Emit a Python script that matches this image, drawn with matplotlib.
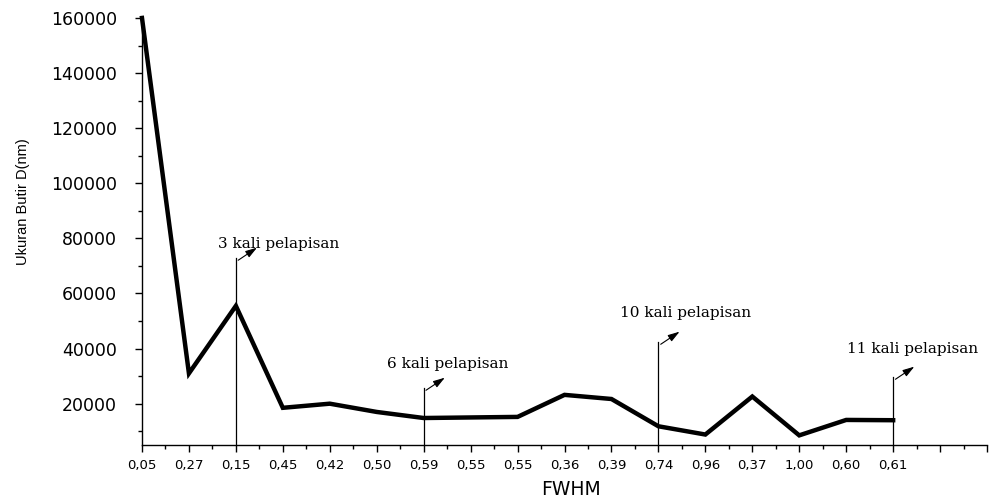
import matplotlib
matplotlib.use("Agg")
import matplotlib.pyplot as plt
from matplotlib.ticker import MultipleLocator, FixedLocator

fwhm_labels = ["0,05", "0,27", "0,15", "0,45", "0,42", "0,50", "0,59", "0,55", "0,55",
               "0,36", "0,39", "0,74", "0,96", "0,37", "1,00", "0,60", "0,61"]
grain_size = [160000, 31000, 55500, 18500, 20000, 17000, 14800, 15000, 15200,
              23200, 21700, 11800, 8800, 22600, 8500, 14100, 14000]

ann_labels = ["3 kali pelapisan", "6 kali pelapisan", "10 kali pelapisan", "11 kali pelapisan"]
ann_index = [2, 6, 11, 16]
ann_line_top = [73000, 25800, 42500, 29800]
ann_text_y = [78000, 34500, 53000, 40000]
ann_text_dx = [0.9, 0.52, 0.57, 0.42]

fig = plt.figure(figsize=(9.95, 4.99), dpi=100)
ax = fig.add_axes([0.1427, 0.1082, 0.992 - 0.1427, 0.964 - 0.1082])

x = list(range(len(grain_size)))
ax.plot(x, grain_size, color="black", lw=3.2, solid_joinstyle="miter", clip_on=False, zorder=3)

ax.set_xlim(0, 18)
ax.set_ylim(5000, 160000)

ax.xaxis.set_major_locator(FixedLocator(list(range(19))))
ax.set_xticklabels(fwhm_labels + ["", ""])
ax.xaxis.set_minor_locator(MultipleLocator(0.5))
ax.yaxis.set_major_locator(FixedLocator(list(range(20000, 160001, 20000))))
ax.yaxis.set_minor_locator(FixedLocator(list(range(10000, 160000, 20000))))

for s in ["top", "right"]:
    ax.spines[s].set_visible(False)
for s in ["left", "bottom"]:
    ax.spines[s].set_linewidth(1.0)

ax.tick_params(axis="both", which="major", direction="out", length=5, width=1, color="black")
ax.tick_params(axis="both", which="minor", direction="out", length=3, width=1, color="black")
ax.tick_params(axis="x", which="major", pad=5, labelsize=9.5)
ax.tick_params(axis="y", which="major", pad=13, labelsize=12.5)
for lab in ax.get_xticklabels() + ax.get_yticklabels():
    lab.set_family("DejaVu Sans")

ax.set_xlabel("FWHM", fontsize=13.5, family="DejaVu Sans")
ax.xaxis.set_label_coords(0.508, -0.082)
ax.set_ylabel("Ukuran Butir D(nm)", fontsize=10.5, family="Liberation Sans")
ax.yaxis.set_label_coords(-0.133, 0.569)

for lab, xi, top, ty, dx in zip(ann_labels, ann_index, ann_line_top, ann_text_y, ann_text_dx):
    ax.plot([xi, xi], [5000, top], color="black", lw=0.9, zorder=2)
    ax.annotate("", xy=(xi + 0.5, top + 4200), xytext=(xi, top - 1500),
                arrowprops=dict(arrowstyle="-|>,head_length=0.7,head_width=0.22",
                                color="black", lw=0.8))
    ax.text(xi + dx, ty, lab, fontsize=11, family="DejaVu Serif", ha="center", va="center",
            color="black", clip_on=False)

fig.savefig("out.png", dpi=100)
